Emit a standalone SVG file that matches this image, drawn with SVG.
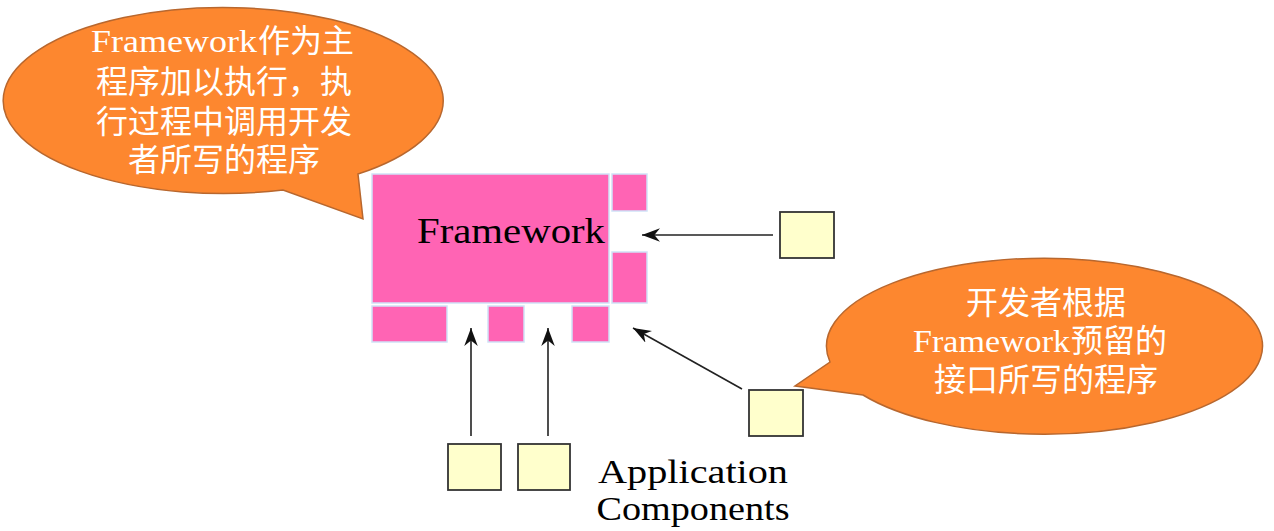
<svg xmlns="http://www.w3.org/2000/svg" width="1274" height="531" viewBox="0 0 1274 531">
<style>
.bubble{fill:#FD872F;stroke:#B8672E;stroke-width:1.5}
.btxt{fill:#FFFFFF;font-family:"Liberation Serif","Noto Sans CJK SC",serif;font-size:32px;text-anchor:middle}
.bl{fill:#FFFFFF;font-family:"Liberation Serif","Noto Sans CJK SC",serif;font-size:32px}
.pink{fill:#FF64B4;stroke:#CFE2F7;stroke-width:1.5}
.comp{fill:#FFFFCC;stroke:#333333;stroke-width:1.8}
.conn{stroke:#222222;stroke-width:1.6;fill:none;marker-end:url(#arr)}
.label{fill:#000000;font-family:"Liberation Serif",serif}
</style>
<defs>
<marker id="arr" viewBox="0 0 16 12" refX="16" refY="6" markerWidth="18" markerHeight="14" markerUnits="userSpaceOnUse" orient="auto">
<path d="M0,0 L16,6 L0,12 L5,6 Z" fill="#111111"/>
</marker>
</defs>
<rect width="1274" height="531" fill="#FFFFFF"/>

<g id="bubble-left">
<path class="bubble" d="M358,174 A220 93 0 1 0 283,190 L363,219 Z"/>
<text class="bl" x="91" y="52" textLength="166" lengthAdjust="spacingAndGlyphs">Framework</text>
<text class="bl" x="258" y="52">作为主</text>
<text class="btxt" x="224" y="93">程序加以执行，执</text>
<text class="btxt" x="224" y="133">行过程中调用开发</text>
<text class="btxt" x="224" y="171">者所写的程序</text>
</g>

<g id="framework">
<rect class="pink" x="372" y="174" width="237" height="129"/>
<rect class="pink" x="612" y="174" width="35" height="37"/>
<rect class="pink" x="612" y="252" width="35" height="51"/>
<rect class="pink" x="372" y="306" width="75" height="36"/>
<rect class="pink" x="488" y="306" width="36" height="36"/>
<rect class="pink" x="572" y="306" width="37" height="36"/>
<text class="label" x="417" y="243" font-size="36" textLength="188" lengthAdjust="spacingAndGlyphs">Framework</text>
</g>

<g id="comp-right"><rect class="comp" x="780" y="212" width="54" height="46"/></g>
<g id="comp-lowright"><rect class="comp" x="749" y="390" width="54" height="46"/></g>
<g id="comp-bottom1"><rect class="comp" x="448" y="444" width="53" height="46"/></g>
<g id="comp-bottom2"><rect class="comp" x="518" y="444" width="52" height="46"/></g>

<g id="bubble-right">
<path class="bubble" d="M830,362 A218 88 0 1 1 863,395 L795,386 Z"/>
<text class="btxt" x="1046" y="314">开发者根据</text>
<text class="bl" x="913" y="352" textLength="157" lengthAdjust="spacingAndGlyphs">Framework</text>
<text class="bl" x="1071" y="352">预留的</text>
<text class="btxt" x="1046" y="391">接口所写的程序</text>
</g>

<g id="app-label">
<text class="label" x="693" y="483" font-size="34" text-anchor="middle" textLength="190" lengthAdjust="spacingAndGlyphs">Application</text>
<text class="label" x="693" y="520" font-size="34" text-anchor="middle" textLength="193" lengthAdjust="spacingAndGlyphs">Components</text>
</g>

<g id="connectors">
<line class="conn" x1="773" y1="235" x2="642" y2="235"/>
<line class="conn" x1="742" y1="389" x2="633" y2="328"/>
<line class="conn" x1="471" y1="436" x2="471" y2="328"/>
<line class="conn" x1="548" y1="436" x2="548" y2="328"/>
</g>
</svg>
